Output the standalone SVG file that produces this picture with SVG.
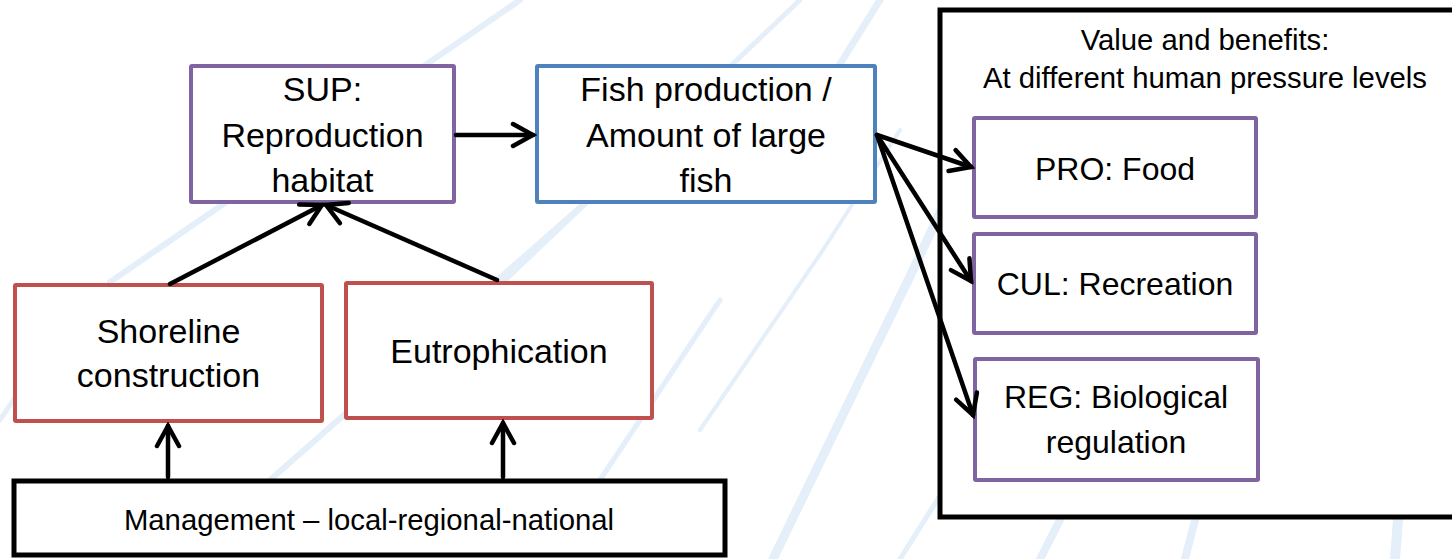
<svg xmlns="http://www.w3.org/2000/svg" width="1452" height="559" viewBox="0 0 1452 559">
<style>
.bg{fill:none;stroke:#e4eff9;stroke-linecap:round}
.box{fill:#fff;stroke-width:4}
.pur{stroke:#8064A2}
.blu{stroke:#4F81BD}
.red{stroke:#C0504D}
.blk{fill:#fff;stroke:#000;stroke-width:5}
text{font-family:"Liberation Sans",Arial,sans-serif;fill:#000;text-anchor:middle}
.t34{font-size:34px}
.t32{font-size:32px}
.t29{font-size:29.3px}
.con{fill:none;stroke:#000;stroke-width:4.5;stroke-linecap:round}
</style>
<defs>
<marker id="arr" markerUnits="userSpaceOnUse" viewBox="-24 -14 28 28" markerWidth="28" markerHeight="28" refX="0" refY="0" orient="auto">
<path d="M-20,-11 L0,0 L-20,11" fill="none" stroke="#000" stroke-width="4.5" stroke-linecap="round" stroke-linejoin="miter"/>
</marker>
</defs>
<rect width="1452" height="559" fill="#fff"/>
<g id="background">
<path class="bg" stroke-width="6" d="M110,282 L520,0"/>
<path class="bg" stroke-width="5" d="M0,420 L60,330"/>
<path class="bg" stroke-width="6" d="M270,480 L600,190"/>
<path class="bg" stroke-width="5" d="M500,285 L800,0"/>
<path class="bg" stroke-width="4" d="M700,430 L823,250 L900,130"/>
<path class="bg" stroke-width="9" d="M773,559 L913,270 L960,170"/>
<path class="bg" stroke-width="5" d="M600,480 L720,300"/>
<path class="bg" stroke-width="7" d="M880,0 L830,80"/>
<path class="bg" stroke-width="8" d="M1185,559 L1195,520"/>
<path class="bg" stroke-width="10" d="M1395,559 L1398,520"/>
<path class="bg" stroke-width="8" d="M1040,559 L1060,520"/>
<path class="bg" stroke-width="5" d="M900,559 L950,480"/>
</g>
<g id="value-benefits">
<rect class="blk" x="940" y="10" width="530" height="507"/>
<text class="t29" x="1205" y="50">Value and benefits:</text>
<text class="t29" x="1205" y="88">At different human pressure levels</text>
</g>
<g id="sup">
<rect class="box pur" x="191" y="66" width="263" height="136" rx="1"/>
<text class="t34" x="322.5" y="101">SUP:</text>
<text class="t34" x="322.5" y="147">Reproduction</text>
<text class="t34" x="322.5" y="192">habitat</text>
</g>
<g id="fish">
<rect class="box blu" x="537" y="66" width="338" height="136" rx="1"/>
<text class="t34" x="706" y="101">Fish production /</text>
<text class="t34" x="706" y="147">Amount of large</text>
<text class="t34" x="706" y="192">fish</text>
</g>
<g id="shoreline">
<rect class="box red" x="15" y="285" width="307" height="136" rx="1"/>
<text class="t34" x="168.5" y="343">Shoreline</text>
<text class="t34" x="168.5" y="387">construction</text>
</g>
<g id="eutrophication">
<rect class="box red" x="346" y="283" width="306" height="135" rx="1"/>
<text class="t34" x="499" y="363">Eutrophication</text>
</g>
<g id="management">
<rect class="blk" x="14" y="481" width="711" height="74"/>
<text class="t29" x="369" y="530">Management – local-regional-national</text>
</g>
<g id="pro">
<rect class="box pur" x="974" y="118" width="282" height="99" rx="1"/>
<text class="t32" x="1115" y="180">PRO: Food</text>
</g>
<g id="cul">
<rect class="box pur" x="974" y="234" width="282" height="99" rx="1"/>
<text class="t32" x="1115" y="295">CUL: Recreation</text>
</g>
<g id="reg">
<rect class="box pur" x="975" y="359" width="283" height="121" rx="1"/>
<text class="t32" x="1116" y="408">REG: Biological</text>
<text class="t32" x="1116" y="453">regulation</text>
</g>
<g id="connectors">
<line class="con" x1="456" y1="135" x2="533" y2="135" marker-end="url(#arr)"/>
<line class="con" x1="170" y1="284" x2="322" y2="205" marker-end="url(#arr)"/>
<line class="con" x1="497" y1="280" x2="326" y2="205" marker-end="url(#arr)"/>
<line class="con" x1="168" y1="477" x2="168" y2="426" marker-end="url(#arr)"/>
<line class="con" x1="503" y1="477" x2="503" y2="423" marker-end="url(#arr)"/>
<line class="con" x1="877" y1="135" x2="971" y2="167" marker-end="url(#arr)"/>
<line class="con" x1="877" y1="135" x2="971" y2="281" marker-end="url(#arr)"/>
<line class="con" x1="877" y1="135" x2="973" y2="415" marker-end="url(#arr)"/>
</g>
</svg>
